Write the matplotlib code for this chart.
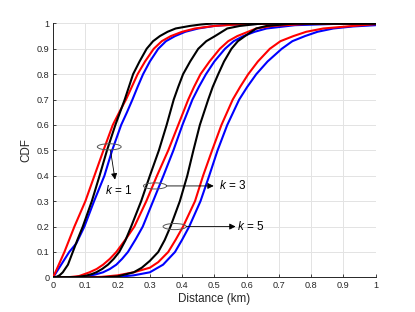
import matplotlib
matplotlib.use("Agg")
import matplotlib.pyplot as plt
from matplotlib.patches import Ellipse

plt.rcParams['font.family'] = ['Liberation Sans', 'DejaVu Sans']
plt.rcParams['mathtext.fontset'] = 'custom'
plt.rcParams['mathtext.rm'] = 'Liberation Sans'
plt.rcParams['mathtext.it'] = 'Liberation Sans:italic'

# ---- data (distance km, CDF) ----
x_blk1 = [0, 0.01, 0.02, 0.03, 0.046, 0.061, 0.076, 0.092, 0.106, 0.12, 0.144, 0.167, 0.193, 0.222, 0.248, 0.268, 0.29, 0.31, 0.331, 0.355, 0.38, 0.424, 0.46, 0.5, 1.0]
y_blk1 = [0, 0.002, 0.008, 0.02, 0.05, 0.1, 0.15, 0.2, 0.25, 0.3, 0.4, 0.5, 0.6, 0.7, 0.8, 0.85, 0.9, 0.93, 0.95, 0.967, 0.98, 0.99, 0.996, 1.0, 1.0]
x_red1 = [0, 0.035, 0.066, 0.1, 0.128, 0.156, 0.185, 0.205, 0.226, 0.244, 0.262, 0.285, 0.312, 0.337, 0.365, 0.4, 0.44, 0.5, 0.6, 1.0]
y_red1 = [0, 0.1, 0.2, 0.3, 0.4, 0.5, 0.6, 0.65, 0.7, 0.75, 0.8, 0.85, 0.9, 0.93, 0.95, 0.967, 0.98, 0.99, 0.998, 1.0]
x_blu1 = [0, 0.02, 0.05, 0.072, 0.097, 0.127, 0.159, 0.183, 0.211, 0.229, 0.246, 0.262, 0.279, 0.3, 0.326, 0.35, 0.378, 0.41, 0.45, 0.5, 0.55, 0.7, 1.0]
y_blu1 = [0, 0.04, 0.1, 0.134, 0.2, 0.3, 0.4, 0.5, 0.6, 0.65, 0.7, 0.75, 0.8, 0.85, 0.9, 0.93, 0.95, 0.967, 0.98, 0.99, 0.995, 1.0, 1.0]

x_blk3 = [0, 0.07, 0.1, 0.12, 0.134, 0.152, 0.17, 0.188, 0.205, 0.224, 0.242, 0.273, 0.30, 0.328, 0.352, 0.374, 0.388, 0.403, 0.425, 0.45, 0.475, 0.502, 0.54, 0.579, 0.65, 1.0]
y_blk3 = [0, 0.001, 0.006, 0.013, 0.02, 0.033, 0.05, 0.073, 0.1, 0.145, 0.2, 0.3, 0.4, 0.5, 0.6, 0.7, 0.75, 0.8, 0.85, 0.9, 0.93, 0.95, 0.98, 0.99, 1.0, 1.0]
x_red3 = [0, 0.05, 0.08, 0.113, 0.135, 0.155, 0.176, 0.196, 0.225, 0.252, 0.289, 0.322, 0.357, 0.388, 0.419, 0.437, 0.457, 0.485, 0.517, 0.543, 0.571, 0.63, 0.68, 0.8, 1.0]
y_red3 = [0, 0.001, 0.005, 0.02, 0.033, 0.05, 0.073, 0.1, 0.15, 0.2, 0.3, 0.4, 0.5, 0.6, 0.7, 0.75, 0.8, 0.85, 0.9, 0.93, 0.95, 0.98, 0.99, 0.999, 1.0]
x_blu3 = [0, 0.05, 0.1, 0.13, 0.155, 0.176, 0.196, 0.214, 0.232, 0.256, 0.278, 0.31, 0.342, 0.373, 0.401, 0.432, 0.452, 0.474, 0.5, 0.533, 0.56, 0.59, 0.625, 0.662, 0.75, 0.9, 1.0]
y_blu3 = [0, 0.0, 0.004, 0.011, 0.02, 0.033, 0.05, 0.073, 0.1, 0.15, 0.2, 0.3, 0.4, 0.5, 0.6, 0.7, 0.75, 0.8, 0.85, 0.9, 0.93, 0.95, 0.967, 0.98, 0.993, 0.999, 1.0]

x_blk5 = [0, 0.15, 0.2, 0.25, 0.275, 0.3, 0.326, 0.346, 0.364, 0.393, 0.416, 0.435, 0.455, 0.481, 0.495, 0.512, 0.53, 0.553, 0.573, 0.595, 0.63, 0.662, 0.75, 1.0]
y_blk5 = [0, 0.0, 0.004, 0.02, 0.038, 0.065, 0.1, 0.147, 0.2, 0.3, 0.4, 0.5, 0.6, 0.7, 0.75, 0.8, 0.85, 0.9, 0.93, 0.95, 0.98, 0.99, 1.0, 1.0]
x_red5 = [0, 0.1, 0.15, 0.2, 0.25, 0.3, 0.326, 0.357, 0.38, 0.403, 0.44, 0.465, 0.493, 0.522, 0.557, 0.58, 0.605, 0.635, 0.672, 0.705, 0.745, 0.785, 0.838, 0.93, 1.0]
y_red5 = [0, 0.0, 0.002, 0.008, 0.02, 0.038, 0.06, 0.1, 0.148, 0.2, 0.3, 0.4, 0.5, 0.6, 0.7, 0.75, 0.8, 0.85, 0.9, 0.93, 0.95, 0.967, 0.98, 0.99, 0.997]
x_blu5 = [0, 0.15, 0.2, 0.25, 0.3, 0.341, 0.378, 0.4, 0.422, 0.457, 0.484, 0.51, 0.54, 0.577, 0.602, 0.63, 0.665, 0.709, 0.742, 0.781, 0.82, 0.869, 0.93, 1.0]
y_blu5 = [0, 0.0, 0.002, 0.008, 0.02, 0.05, 0.1, 0.148, 0.2, 0.3, 0.4, 0.5, 0.6, 0.7, 0.75, 0.8, 0.85, 0.9, 0.93, 0.95, 0.967, 0.98, 0.988, 0.993]

ticks = [0, 0.1, 0.2, 0.3, 0.4, 0.5, 0.6, 0.7, 0.8, 0.9, 1]
tick_labels = ['0', '0.1', '0.2', '0.3', '0.4', '0.5', '0.6', '0.7', '0.8', '0.9', '1']

fig = plt.figure(figsize=(4.15, 3.12), dpi=100)
ax = fig.add_axes([0.128, 0.111, 0.777, 0.814])

lw = 1.5
line_kw = dict(lw=lw, solid_joinstyle='round', solid_capstyle='round')
for xs, ys in [(x_blu1, y_blu1), (x_blu3, y_blu3), (x_blu5, y_blu5)]:
    ax.plot(xs, ys, color=(0, 0, 1), zorder=3, **line_kw)
for xs, ys in [(x_red1, y_red1), (x_red3, y_red3), (x_red5, y_red5)]:
    ax.plot(xs, ys, color=(1, 0, 0), zorder=4, **line_kw)
for xs, ys in [(x_blk1, y_blk1), (x_blk3, y_blk3), (x_blk5, y_blk5)]:
    ax.plot(xs, ys, color='k', zorder=5, **line_kw)

ax.set_xlim(0, 1)
ax.set_ylim(0, 1)
ax.set_xticks(ticks)
ax.set_xticklabels(tick_labels)
ax.set_yticks(ticks)
ax.set_yticklabels(tick_labels)
ax.grid(True, color='#e3e3e3', lw=0.7)
ax.set_axisbelow(True)
for s in ['top', 'right']:
    ax.spines[s].set_visible(False)
for s in ['left', 'bottom']:
    ax.spines[s].set_color('#262626')
    ax.spines[s].set_linewidth(0.7)
ax.tick_params(direction='in', length=2.5, width=0.6, color='#262626',
               labelsize=6.6, labelcolor='#262626', pad=2.5)
ax.set_xlabel('Distance (km)', fontsize=8.4, color='#262626', labelpad=2)
ax.set_ylabel('CDF', fontsize=8.4, color='#262626', labelpad=3)

# annotations
ell_kw = dict(fill=False, edgecolor='#555555', lw=0.7, zorder=6)
ax.add_patch(Ellipse((0.174, 0.514), 0.074, 0.024, **ell_kw))
ax.add_patch(Ellipse((0.316, 0.36), 0.072, 0.024, **ell_kw))
ax.add_patch(Ellipse((0.377, 0.2), 0.072, 0.024, **ell_kw))

arr = dict(arrowstyle='-|>', color='k', lw=0.6, mutation_scale=9, shrinkA=0, shrinkB=0)
ax.annotate('', xy=(0.192, 0.385), xytext=(0.178, 0.5), arrowprops=arr, zorder=7)
ax.annotate('', xy=(0.498, 0.36), xytext=(0.352, 0.36), arrowprops=arr, zorder=7)
ax.annotate('', xy=(0.566, 0.2), xytext=(0.413, 0.2), arrowprops=arr, zorder=7)

tkw = dict(fontsize=8.5, color='k', va='center', ha='left', zorder=8)
ax.text(0.16, 0.344, r'$\mathit{k}$ = 1', **tkw)
ax.text(0.515, 0.36, r'$\mathit{k}$ = 3', **tkw)
ax.text(0.569, 0.2, r'$\mathit{k}$ = 5', **tkw)

fig.savefig('out.png', dpi=100)
